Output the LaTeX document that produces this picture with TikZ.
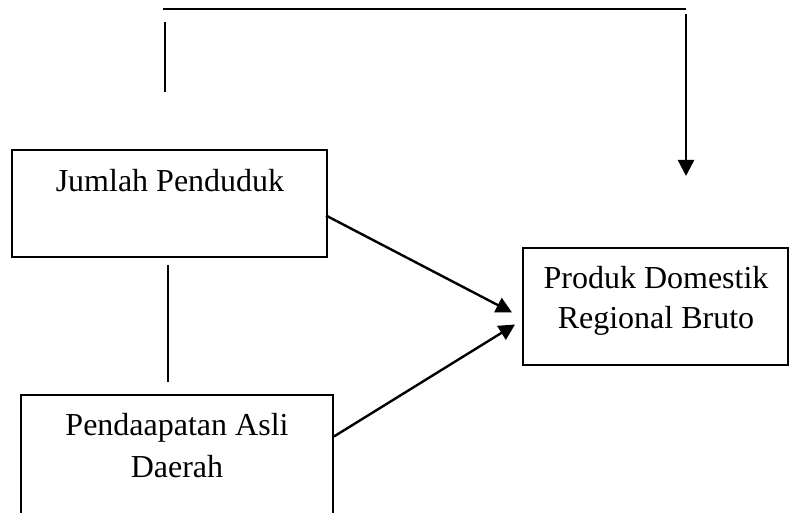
\documentclass[tikz,border=0pt]{standalone}
\usepackage{fontspec}
\setmainfont{Liberation Serif}
\usetikzlibrary{arrows.meta}
\begin{document}
\begin{tikzpicture}[x=1pt,y=-1pt,
  box/.style={draw,line width=1.9pt,rectangle,inner sep=0pt},
  lbl/.style={font=\fontsize{32}{40}\selectfont,anchor=base,inner sep=0pt,align=center},
  con/.style={line width=2.2pt},
  arr/.style={line width=2.4pt,-{Triangle[length=16pt,width=16pt]}}]
\useasboundingbox (0,0) rectangle (789,513);
% boxes
\node[box,minimum width=315pt,minimum height=107pt] (J) at (169.5,203.5) {};
\node[box,minimum width=265pt,minimum height=117pt] (P) at (655.5,306.5) {};
\node[box,minimum width=312pt,minimum height=125pt] (A) at (177,457.5) {};
% labels
\node[lbl] (Jt) at (170,192) {Jumlah Penduduk};
\node[lbl] (Pt1) at (656,288) {Produk Domestik};
\node[lbl] (Pt2) at (656,328) {Regional Bruto};
\node[lbl] (At1) at (177,435) {Pendaapatan Asli};
\node[lbl] (At2) at (177,477) {Daerah};
% top connector pieces
\coordinate (L1) at (165,22);
\coordinate (L2) at (165,92);
\coordinate (H1) at (163,9);
\coordinate (H2) at (686,9);
\coordinate (R1) at (686,14);
\coordinate (R2) at (686,176);
\draw[con] (L1) -- (L2);
\draw[con] (H1) -- (H2);
\draw[arr] (R1) -- (R2);
% middle vertical line
\coordinate (M1) at (168,265);
\coordinate (M2) at (168,382);
\draw[con] (M1) -- (M2);
% arrows to PDRB
\draw[arr] ([xshift=-2pt,yshift=-12pt]J.east) -- ([xshift=-10pt,yshift=-6pt]P.west);
\draw[arr] ([yshift=21pt]A.east) -- ([xshift=-7pt,yshift=-18pt]P.west);
\end{tikzpicture}
\end{document}
